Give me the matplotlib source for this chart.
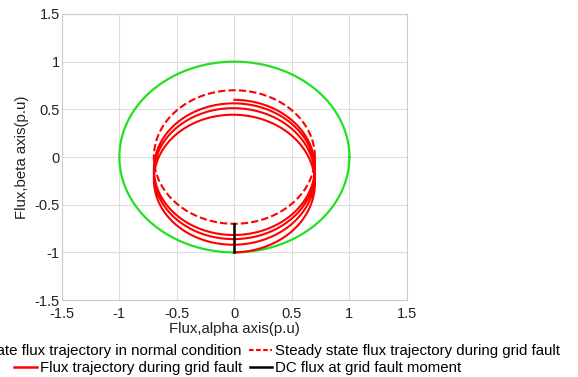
import numpy as np
import matplotlib.pyplot as plt
from matplotlib.lines import Line2D

plt.rcParams['font.family'] = ['Liberation Sans', 'DejaVu Sans']

# flux magnitudes (p.u)
psi_normal = 1.0        # steady state, normal condition
psi_fault = 0.7         # steady state during grid fault
psi_dc0 = 0.3           # dc flux at the fault moment
tau_turns = 3.2         # decay time constant, in turns
n_turns = 3.5           # turns drawn for the fault trajectory

labels = ['Steady state flux trajectory in normal condition',
          'Steady state flux trajectory during grid fault',
          'Flux trajectory during grid fault',
          'DC flux at grid fault moment']
ticks = [-1.5, -1, -0.5, 0, 0.5, 1, 1.5]
tick_labels = ['-1.5', '-1', '-0.5', '0', '0.5', '1', '1.5']


def main():
    th = np.linspace(0, 2 * np.pi, 400)
    turns = np.linspace(0, n_turns, 2000)
    ang = -np.pi / 2 + 2 * np.pi * turns
    dc = psi_dc0 * np.exp(-turns / tau_turns)

    fig = plt.figure(figsize=(5.78, 3.77), dpi=100)
    ax = fig.add_axes([0.107, 0.204, 0.597, 0.759])

    ax.plot(psi_normal * np.cos(th), psi_normal * np.sin(th), color='#22e022', lw=1.6)
    ax.plot(psi_fault * np.cos(th), psi_fault * np.sin(th), color='red', lw=1.5,
            ls=(0, (3.5, 1.5)))
    ax.plot(psi_fault * np.cos(ang), psi_fault * np.sin(ang) - dc, color='red', lw=1.5)
    ax.plot([0, 0], [-psi_fault, -psi_fault - psi_dc0], color='black', lw=1.8)

    ax.set_xlim(-1.5, 1.5)
    ax.set_ylim(-1.5, 1.5)
    ax.set_xticks(ticks)
    ax.set_xticklabels(tick_labels)
    ax.set_yticks(ticks)
    ax.set_yticklabels(tick_labels)
    ax.tick_params(labelsize=10.5, length=0, colors='#222222')
    ax.tick_params(axis='x', pad=5)
    ax.tick_params(axis='y', pad=1.5)
    ax.grid(True, color='#dddddd', lw=0.8)
    for s in ax.spines.values():
        s.set_color('#cccccc')
        s.set_linewidth(0.8)
    ax.set_xlabel('Flux,alpha axis(p.u)', fontsize=10.8, labelpad=1, color='#222222')
    ax.set_ylabel('Flux,beta axis(p.u)', fontsize=10.8, labelpad=4, color='#222222')

    h1 = [Line2D([], [], color='#22e022', lw=1.6),
          Line2D([], [], color='red', lw=1.5, ls=(0, (2.2, 1.2)))]
    h2 = [Line2D([], [], color='red', lw=1.8),
          Line2D([], [], color='black', lw=1.8)]
    kw = dict(ncol=2, frameon=False, fontsize=10.8, handlelength=1.5, handletextpad=0.2,
              columnspacing=0.5, loc='center')
    leg1 = ax.legend(h1, labels[:2], bbox_to_anchor=(0.5, -0.178), **kw)
    ax.add_artist(leg1)
    ax.legend(h2, labels[2:], bbox_to_anchor=(0.51, -0.237), **kw)

    fig.savefig('out.png')


if __name__ == "__main__":
    main()
